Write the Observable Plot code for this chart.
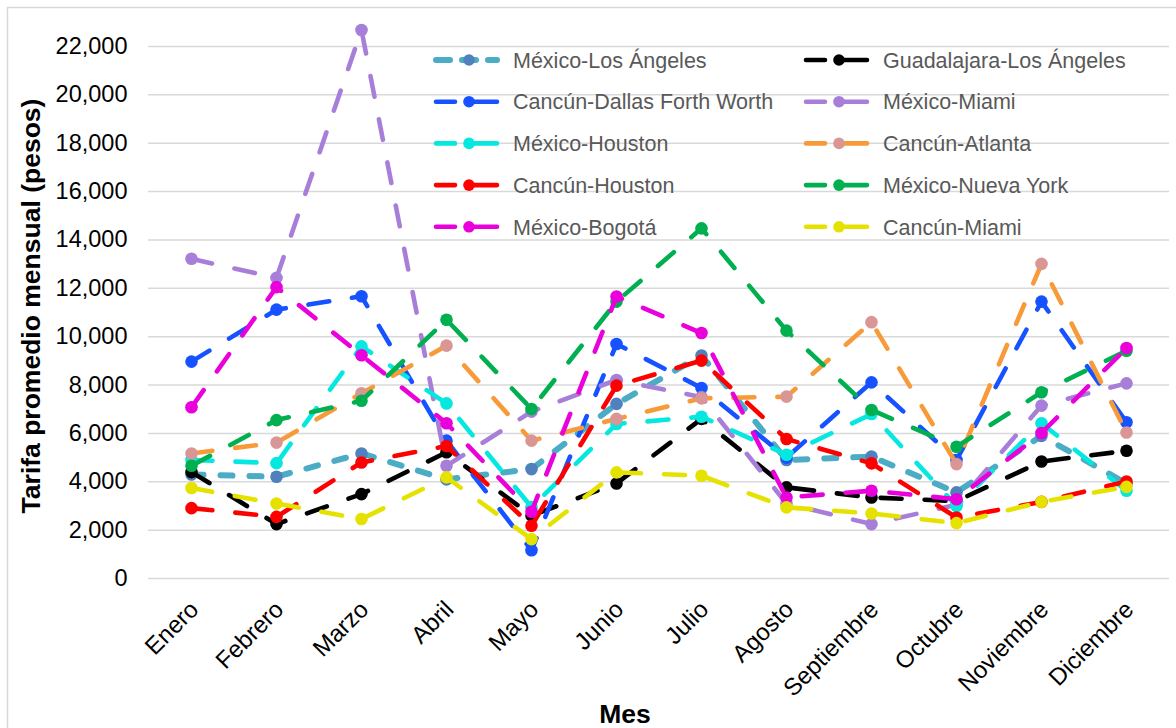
<!DOCTYPE html>
<html><head><meta charset="utf-8">
<script src="https://cdn.jsdelivr.net/npm/d3@7"></script>
<script src="https://cdn.jsdelivr.net/npm/@observablehq/plot@0.6"></script>
<style>
html,body{margin:0;padding:0;background:#fff;overflow:hidden;}
#chart{position:relative;width:1176px;height:728px;}
</style></head><body><div id="chart"></div>
<script>
const months = ["Enero","Febrero","Marzo","Abril","Mayo","Junio","Julio","Agosto","Septiembre","Octubre","Noviembre","Diciembre"];
const yTicks = [0,2000,4000,6000,8000,10000,12000,14000,16000,18000,20000,22000];

const mexicoLosAngeles      = [4300, 4210, 5170, 4100, 4525, 7220, 9220, 4900, 5040, 3560, 5900, 3930];
const guadalajaraLosAngeles = [4400, 2250, 3490, 5220, 2600, 3930, 6600, 3770, 3350, 3200, 4840, 5280];
const cancunDallas          = [8970, 11120, 11670, 5700, 1170, 9700, 7880, 5000, 8110, 4900, 11450, 6460];
const mexicoMiami           = [13220, 12430, 22680, 4660, 6900, 8210, 7500, 3100, 2250, 3050, 7150, 8070];
const mexicoHouston         = [4900, 4770, 9600, 7240, 2950, 6390, 6690, 5120, 6800, 3000, 6420, 3630];
const cancunAtlanta         = [5170, 5620, 7660, 9630, 5700, 6600, 7450, 7520, 10600, 4730, 13010, 6040];
const cancunHouston         = [2910, 2550, 4800, 5480, 2180, 7975, 9010, 5770, 4760, 2520, 3170, 4010];
const mexicoNuevaYork       = [4660, 6550, 7350, 10700, 7010, 11450, 14480, 10250, 6970, 5450, 7700, 9420];
const mexicoBogota          = [7080, 12050, 9230, 6420, 2760, 11660, 10150, 3350, 3630, 3280, 6020, 9530];
const cancunMiami           = [3740, 3100, 2460, 4180, 1630, 4390, 4250, 2940, 2690, 2290, 3170, 3790];

const seriesNames = ["México-Los Ángeles","Guadalajara-Los Ángeles","Cancún-Dallas Forth Worth","México-Miami","México-Houston","Cancún-Atlanta","Cancún-Houston","México-Nueva York","México-Bogotá","Cancún-Miami"];
const seriesValues = [mexicoLosAngeles, guadalajaraLosAngeles, cancunDallas, mexicoMiami, mexicoHouston, cancunAtlanta, cancunHouston, mexicoNuevaYork, mexicoBogota, cancunMiami];
const lineColors   = ["#4BACC6","#000000","#1652FF","#A87FD8","#05E8DF","#F79B3A","#FF0000","#00B050","#E900DA","#E6E200"];
const markerColors = ["#4F81BD","#000000","#1652FF","#A87FD8","#05E8DF","#DA9694","#FF0000","#00B050","#E900DA","#E6E200"];

const rows = seriesNames.map((name, i) => months.map((m, j) => ({series: name, month: m, value: seriesValues[i][j]})));

const marks = [
  Plot.gridY(yTicks, {stroke: "#D9D9D9", strokeOpacity: 1, strokeWidth: 1.5}),
  Plot.axisY(yTicks, {tickSize: 0, tickPadding: 21, fontSize: 23.5, tickFormat: d3.format(","), label: null, fill: "#000"}),
  Plot.axisX({tickSize: 0, tickPadding: 27, dx: 3, tickRotate: -45, fontSize: 24, label: null, fill: "#000"})
];
seriesNames.forEach((name, i) => {
  const isLA = i === 0;
  marks.push(Plot.line(rows[i], {x: "month", y: "value", stroke: lineColors[i],
    strokeWidth: isLA ? 6 : 4.6, strokeDasharray: isLA ? "12,17" : "21,23", strokeLinecap: "round", strokeLinejoin: "round"}));
  marks.push(Plot.dot(rows[i], {x: "month", y: "value", r: 6.3, fill: markerColors[i], stroke: "none"}));
});

const svg = Plot.plot({
  width: 1176, height: 728,
  marginLeft: 148, marginRight: 7, marginTop: 46, marginBottom: 150,
  style: {background: "transparent", fontFamily: "'Liberation Sans', Arial, sans-serif", overflow: "visible", color: "#000"},
  x: {type: "point", domain: months, padding: 0.5, label: null},
  y: {domain: [0, 22000], label: null},
  marks
});
document.getElementById("chart").appendChild(svg);

const s = d3.select(svg);
// chart border
s.insert("path", ":first-child").attr("d", "M7.5,728V7.5H1176").attr("fill", "none").attr("stroke", "#D9D9D9").attr("stroke-width", 1.5);

// axis titles
s.append("text").attr("transform", "translate(40,306) rotate(-90)").attr("text-anchor", "middle")
  .attr("font-family", "'Liberation Sans', Arial, sans-serif").attr("font-weight", "bold").attr("font-size", 26.5).attr("fill", "#000")
  .text("Tarifa promedio mensual (pesos)");
s.append("text").attr("x", 625).attr("y", 723).attr("text-anchor", "middle")
  .attr("font-family", "'Liberation Sans', Arial, sans-serif").attr("font-weight", "bold").attr("font-size", 26.5).attr("fill", "#000")
  .text("Mes");

// legend (two columns, row-major)
const leg = s.append("g").attr("font-family", "'Liberation Sans', Arial, sans-serif").attr("font-size", 21.5).attr("text-anchor", "start");
seriesNames.forEach((name, i) => {
  const col = i % 2, row = Math.floor(i / 2);
  const x0 = col === 0 ? 434 : 804;
  const y0 = 60 + row * 41.7;
  const isLA = i === 0;
  leg.append("line").attr("x1", x0 + 2).attr("x2", x0 + 63).attr("y1", y0).attr("y2", y0)
    .attr("stroke", lineColors[i]).attr("stroke-width", isLA ? 6 : 4.6).attr("stroke-linecap", "round")
    .attr("stroke-dasharray", isLA ? "14,12,14,12,14" : "19,12,30");
  leg.append("circle").attr("cx", x0 + 35).attr("cy", y0).attr("r", 5.8).attr("fill", markerColors[i]);
  leg.append("text").attr("x", x0 + 79).attr("y", y0).attr("dy", "0.36em").attr("text-anchor", "start").attr("fill", "#595959").text(name);
});
</script></body></html>
